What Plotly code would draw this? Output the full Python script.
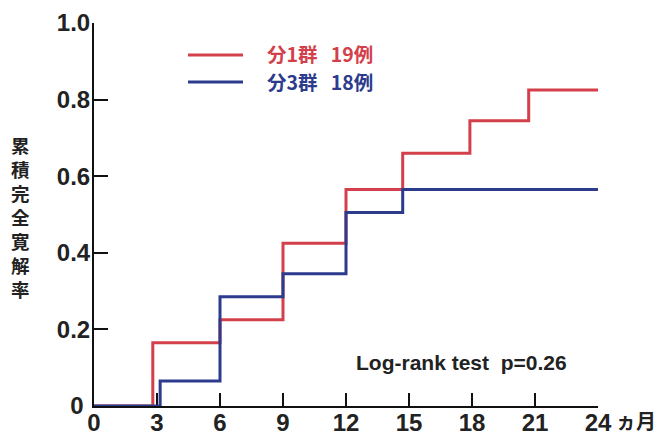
import plotly.graph_objects as go

# data
red_times = [0, 2.8, 6, 9, 12, 14.7, 17.9, 20.7, 24]
red_vals = [0, 0.165, 0.225, 0.425, 0.565, 0.66, 0.745, 0.825, 0.825]
blue_times = [0, 3.15, 6, 9, 12, 14.7, 24]
blue_vals = [0, 0.065, 0.285, 0.345, 0.505, 0.565, 0.565]
x_ticks = [0, 3, 6, 9, 12, 15, 18, 21, 24]
y_ticks = [0, 0.2, 0.4, 0.6, 0.8, 1.0]
y_ticktext = ["0&nbsp;", "0.2", "0.4", "0.6", "0.8", "1.0"]
red_label = "分1群&nbsp;&nbsp;&nbsp;19例"
blue_label = "分3群&nbsp;&nbsp;&nbsp;18例"
y_title_chars = list("累積完全寛解率")
test_text = "Log-rank test&nbsp;&nbsp;p=0.26"
x_unit = "ヵ月"

RED = "#d3404b"
BLUE = "#2d3b8d"
FONT = "Liberation Sans, Arial, sans-serif"
CJK = "Noto Sans CJK JP, Liberation Sans, sans-serif"

fig = go.Figure()
fig.add_trace(go.Scatter(x=red_times, y=red_vals, mode="lines", line=dict(color=RED, width=3, shape="hv"),
                         cliponaxis=False, showlegend=False, hoverinfo="skip"))
fig.add_trace(go.Scatter(x=blue_times, y=blue_vals, mode="lines", line=dict(color=BLUE, width=3, shape="hv"),
                         cliponaxis=False, showlegend=False, hoverinfo="skip"))

W, H = 661, 436
L, R, T, B = 94, 661 - 598, 23, 436 - 406
pw, ph = W - L - R, H - T - B

def px(x):
    return (x - L) / pw

def py(y):
    return (H - B - y) / ph

fig.update_layout(
    template="none",
    width=W, height=H, autosize=False,
    margin=dict(l=L, r=R, t=T, b=B, pad=0),
    paper_bgcolor="white", plot_bgcolor="white",
    font=dict(family=FONT, color="#222"),
    showlegend=False,
    xaxis=dict(range=[0, 24], tickvals=x_ticks, ticktext=[str(v) for v in x_ticks],
               ticks="inside", ticklen=13, tickwidth=2, tickcolor="#111",
               showline=True, linecolor="#111", linewidth=2, showgrid=False, zeroline=False,
               automargin=False, ticklabelstandoff=-6,
               tickfont=dict(family=FONT, size=24, color="#222", weight="bold"), layer="below traces"),
    yaxis=dict(range=[0, 1], tickvals=y_ticks, ticktext=y_ticktext,
               ticks="inside", ticklen=14, tickwidth=2, tickcolor="#111",
               showline=True, linecolor="#111", linewidth=2, showgrid=False, zeroline=False,
               automargin=False, ticklabelstandoff=-3,
               tickfont=dict(family=FONT, size=24, color="#222", weight="bold"), layer="below traces"),
)

annotations = []
# y title stacked vertically
annotations.append(dict(text="<b>" + "<br>".join(y_title_chars) + "</b>", x=px(20), y=py(217), xref="paper", yref="paper",
                        showarrow=False, xanchor="center", yanchor="middle",
                        font=dict(family=CJK, size=18.5, color="#222")))
# legend
for lab, col, yy in [(red_label, RED, 54), (blue_label, BLUE, 81)]:
    annotations.append(dict(text="<b>" + lab + "</b>", x=px(266), y=py(yy), xref="paper", yref="paper",
                            showarrow=False, xanchor="left", yanchor="middle", borderpad=0,
                            font=dict(family=CJK, size=19.5, color=col)))
    fig.add_shape(type="line", x0=px(188), x1=px(243), y0=py(yy + 1), y1=py(yy + 1), xref="paper", yref="paper",
                  line=dict(color=col, width=3))
# log-rank text
annotations.append(dict(text="<b>" + test_text + "</b>", x=px(461), y=py(362), xref="paper", yref="paper",
                        showarrow=False, xanchor="center", yanchor="middle",
                        font=dict(family=FONT, size=21, color="#222")))
# unit
annotations.append(dict(text="<b>" + x_unit + "</b>", x=px(614), y=py(420), xref="paper", yref="paper",
                        showarrow=False, xanchor="left", yanchor="middle",
                        font=dict(family=CJK, size=20, color="#222")))
fig.update_layout(annotations=annotations)

fig.write_html("out.html", config={"displayModeBar": False, "staticPlot": True},
               post_script="document.body.style.margin='0';document.body.style.overflow='hidden';")
